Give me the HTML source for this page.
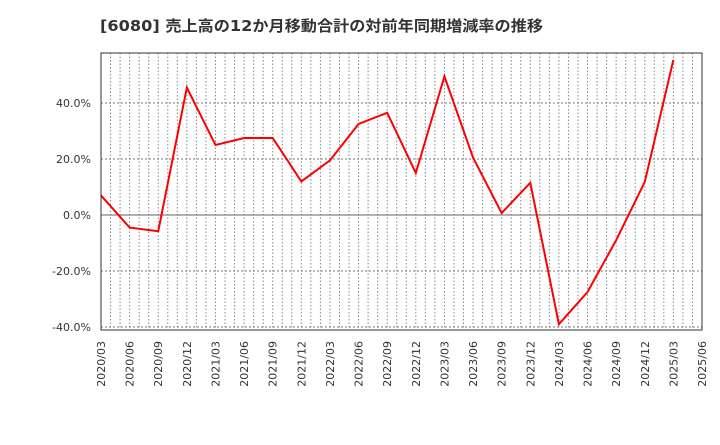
<!DOCTYPE html>
<html><head><meta charset="utf-8"><style>
body{margin:0;background:#fff;}
svg text{font-family:"DejaVu Sans","Noto Sans CJK JP",sans-serif;}
</style></head><body>
<svg width="720" height="440" xmlns="http://www.w3.org/2000/svg">
<text x="100" y="31" font-size="15" font-weight="bold" fill="#333" textLength="443" lengthAdjust="spacingAndGlyphs">[6080]  売上高の12か月移動合計の対前年同期増減率の推移</text>
<g id="grid"></g>
<g id="axes"></g>
<polyline id="line" fill="none" stroke="#ff0000" stroke-width="2"/>
<rect x="101" y="53" width="601" height="277" fill="none" stroke="#333" stroke-width="1"/>
</svg>
<script>
const categories=["2020/03","2020/06","2020/09","2020/12","2021/03","2021/06","2021/09","2021/12","2022/03","2022/06","2022/09","2022/12","2023/03","2023/06","2023/09","2023/12","2024/03","2024/06","2024/09","2024/12","2025/03"];
const values=[7,-4.5,-5.8,45.5,25,27.5,27.5,12,19.5,32.5,36.5,15,49.5,20.5,0.7,11.5,-39,-27.5,-9,11.8,55.4];
const xLabels=["2020/03","2020/06","2020/09","2020/12","2021/03","2021/06","2021/09","2021/12","2022/03","2022/06","2022/09","2022/12","2023/03","2023/06","2023/09","2023/12","2024/03","2024/06","2024/09","2024/12","2025/03","2025/06"];
const yTicks=[40,20,0,-20,-40];
const X0=101,X1=702,Y0=53,Y1=330;
const q=(X1-X0)/21;
function x(i){return X0+i*q;}
function y(v){return 215-v*2.8;}
const ns="http://www.w3.org/2000/svg";
const grid=document.getElementById('grid'),axes=document.getElementById('axes');
for(let m=1;m<63;m++){
 const l=document.createElementNS(ns,'line');
 const xx=X0+m*q/3;
 l.setAttribute('x1',xx);l.setAttribute('x2',xx);l.setAttribute('y1',Y0);l.setAttribute('y2',Y1);
 l.setAttribute('stroke','#888');l.setAttribute('stroke-dasharray','1.5,2');
 
 
 grid.appendChild(l);
}
yTicks.forEach(t=>{
 const l=document.createElementNS(ns,'line');
 l.setAttribute('x1',X0);l.setAttribute('x2',X1);l.setAttribute('y1',y(t));l.setAttribute('y2',y(t));
 if(t===0){l.setAttribute('stroke','#666');}else{l.setAttribute('stroke','#777');l.setAttribute('stroke-dasharray','2,2');}
 
 
 grid.appendChild(l);
 const tx=document.createElementNS(ns,'text');
 tx.setAttribute('x',X0-10);tx.setAttribute('y',y(t)+4);tx.setAttribute('text-anchor','end');tx.setAttribute('font-size','11');tx.setAttribute('fill','#333');
 tx.textContent=t.toFixed(1)+'%';
 
 
 axes.appendChild(tx);
});
xLabels.forEach((s,i)=>{
 const tx=document.createElementNS(ns,'text');
 const xx=x(i)+4;
 tx.setAttribute('x',xx);tx.setAttribute('y',341);tx.setAttribute('text-anchor','end');tx.setAttribute('font-size','11');tx.setAttribute('fill','#333');
 tx.setAttribute('transform','rotate(-90 '+xx+' 341)');
 tx.textContent=s;
 
 
 axes.appendChild(tx);
});
document.getElementById('line').setAttribute('points',values.map((v,i)=>x(i)+','+y(v)).join(' '));
</script>
</body></html>
